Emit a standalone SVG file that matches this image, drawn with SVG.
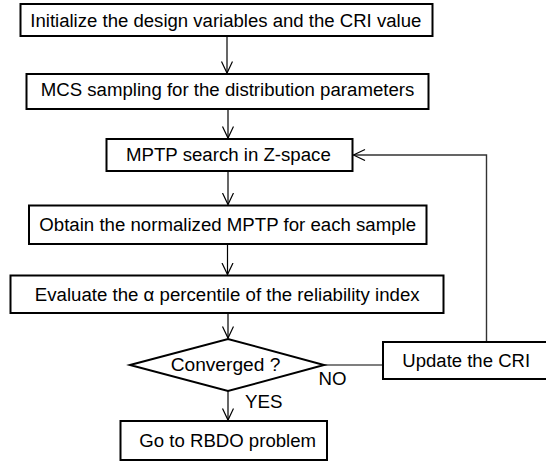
<svg xmlns="http://www.w3.org/2000/svg" width="546" height="461" viewBox="0 0 546 461">
<defs>
<style>
.box{fill:#fff;stroke:#000;stroke-width:2}
.t{font-family:"Liberation Sans",Arial,sans-serif;font-size:18px;fill:#000;text-anchor:middle}
.lab{font-family:"Liberation Sans",Arial,sans-serif;font-size:18px;fill:#000}
.c{fill:none;stroke:#000;stroke-width:1.2}
.fb{fill:none;stroke:#333;stroke-width:1.4}
</style>
<marker id="ah" markerWidth="14" markerHeight="14" refX="12" refY="6" orient="auto" markerUnits="userSpaceOnUse">
<path d="M0.5,0.5 L12,6 L0.5,11.5" fill="none" stroke="#000" stroke-width="1.2"/>
</marker>
</defs>
<rect width="546" height="461" fill="#fff"/>
<g id="connectors">
<line class="c" x1="227" y1="36" x2="227" y2="73" marker-end="url(#ah)"/>
<line class="c" x1="228" y1="109" x2="228" y2="138" marker-end="url(#ah)"/>
<line class="c" x1="228" y1="171" x2="228" y2="204.5" marker-end="url(#ah)"/>
<line class="c" x1="227.5" y1="244" x2="227.5" y2="274.5" marker-end="url(#ah)"/>
<line class="c" x1="228" y1="313" x2="228" y2="338" marker-end="url(#ah)"/>
<line class="c" x1="228" y1="391" x2="228" y2="420" marker-end="url(#ah)"/>
<line class="c" x1="324" y1="365" x2="383" y2="365"/>
<polyline class="fb" points="486.5,342 486.5,155 353.5,155" marker-end="url(#ah)"/>
<text class="lab" x="318.5" y="385" textLength="28" lengthAdjust="spacingAndGlyphs">NO</text>
<text class="lab" x="245" y="408" textLength="37.5" lengthAdjust="spacingAndGlyphs">YES</text>
</g>
<g id="n1"><rect class="box" x="20.5" y="4" width="412" height="32"/><text class="t" x="225.8" y="27" textLength="391" lengthAdjust="spacingAndGlyphs">Initialize the design variables and the CRI value</text></g>
<g id="n2"><rect class="box" x="26.5" y="74" width="402" height="35"/><text class="t" x="227.5" y="96" textLength="373.6" lengthAdjust="spacingAndGlyphs">MCS sampling for the distribution parameters</text></g>
<g id="n3"><rect class="box" x="106.5" y="139" width="246" height="32"/><text class="t" x="228.4" y="161" textLength="204.8" lengthAdjust="spacingAndGlyphs">MPTP search in Z-space</text></g>
<g id="n4"><rect class="box" x="29" y="205.5" width="397.5" height="38.5"/><text class="t" x="227.7" y="231" textLength="376.8" lengthAdjust="spacingAndGlyphs">Obtain the normalized MPTP for each sample</text></g>
<g id="n5"><rect class="box" x="10.5" y="275.5" width="433" height="37.5"/><text class="t" x="227.2" y="301" textLength="384.8" lengthAdjust="spacingAndGlyphs">Evaluate the α percentile of the reliability index</text></g>
<g id="n6"><polygon class="box" points="130,365 228,339 324,365 228,391"/><text class="t" x="225.5" y="370.5" textLength="109.7" lengthAdjust="spacingAndGlyphs">Converged ?</text></g>
<g id="n7"><rect class="box" x="383" y="342" width="165" height="37"/><text class="t" x="466.2" y="366.5" textLength="127.7" lengthAdjust="spacingAndGlyphs">Update the CRI</text></g>
<g id="n8"><rect class="box" x="120.5" y="421" width="206.5" height="39"/><text class="t" x="227.7" y="446.5" textLength="176.7" lengthAdjust="spacingAndGlyphs">Go to RBDO problem</text></g>
</svg>
